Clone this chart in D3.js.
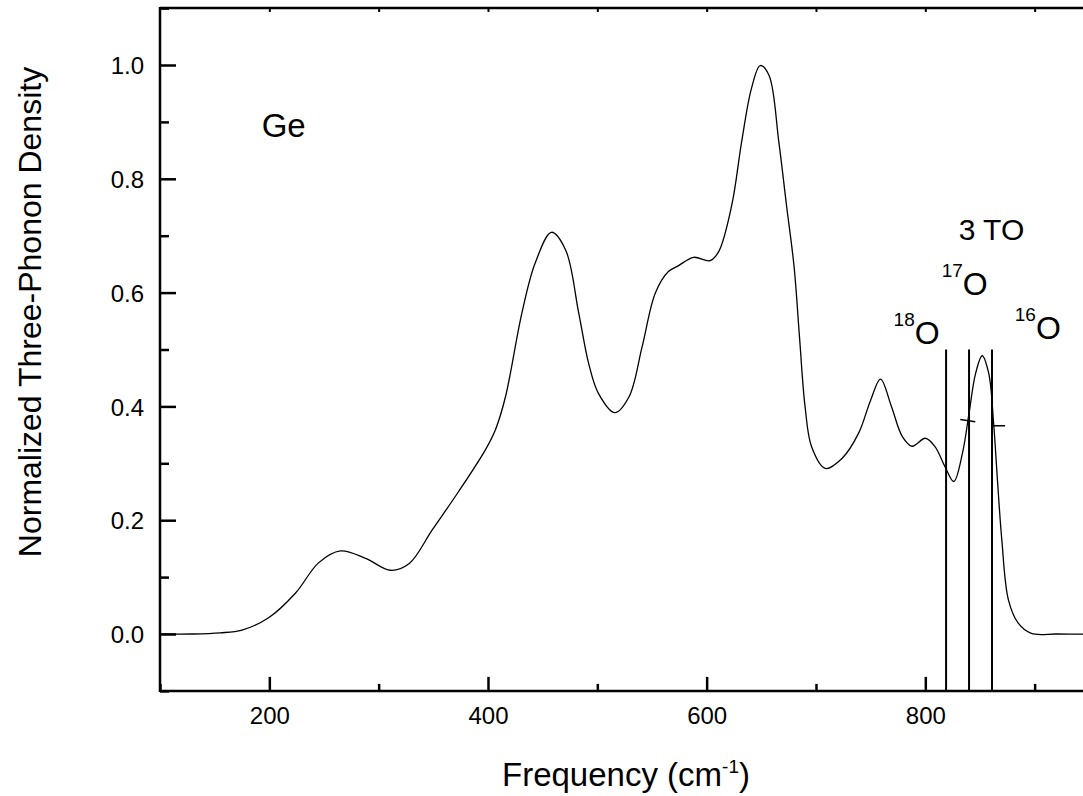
<!DOCTYPE html>
<html>
<head>
<meta charset="utf-8">
<script src="https://cdn.jsdelivr.net/npm/d3@7"></script>
<style>
  body { margin: 0; background: #fff; }
  svg { display: block; font-family: "Liberation Sans", Arial, sans-serif; }
</style>
</head>
<body>
<svg id="chart" width="1083" height="796"></svg>
<script>
// spectrum (frequency in cm-1, normalized density)
const freq = [100, 130, 155, 175, 199, 224, 245, 265, 288, 311, 328, 349, 373, 398, 407, 416, 431, 443, 458, 471, 483, 492, 501, 516, 529, 541, 553, 565, 574, 588, 603, 611, 623, 632, 641, 649, 657, 666, 673, 680, 685, 690, 696, 708.5, 724, 739, 750, 759, 769, 779, 788, 800, 809, 818, 826, 834, 840, 846, 852, 858, 862.5, 866, 870, 876, 885, 897, 920, 950]
const density = [0, 0, 0.002, 0.007, 0.028, 0.072, 0.125, 0.146, 0.133, 0.112, 0.124, 0.183, 0.25, 0.325, 0.36, 0.417, 0.564, 0.651, 0.706, 0.675, 0.564, 0.476, 0.423, 0.389, 0.417, 0.505, 0.599, 0.637, 0.647, 0.662, 0.656, 0.672, 0.754, 0.865, 0.959, 0.999, 0.982, 0.865, 0.754, 0.645, 0.52, 0.4, 0.329, 0.291, 0.309, 0.353, 0.411, 0.448, 0.4, 0.347, 0.33, 0.344, 0.329, 0.294, 0.268, 0.318, 0.388, 0.458, 0.489, 0.458, 0.37, 0.27, 0.165, 0.06, 0.019, 0.001, 0, 0]

// 3 TO positions for the three oxygen isotopes
const isotopeFreq = [819, 840, 861]
const isotopeMass = ['18', '17', '16']
const isotopeTop = 0.5
// little crossing dashes on the lines: [f1, v1, f2, v2]
const dashes = [[832, 0.377, 845.7, 0.373], [861, 0.366, 873, 0.366]]

const xMajor = [200, 400, 600, 800]
const yMajor = [0, 0.2, 0.4, 0.6, 0.8, 1.0]

const svg = d3.select('#chart')
const margin = { left: 160, top: 8 }
const x = d3.scaleLinear().domain([100, 950]).range([160, 160 + 850 * 1.0933])
const y = d3.scaleLinear().domain([-0.1, 1.1]).range([690.9, 8.1])

const points = freq.map((f, i) => ({ f: f, v: density[i] }))

const line = d3.line().x(d => x(d.f)).y(d => y(d.v)).curve(d3.curveCatmullRom.alpha(0.5))

svg.append('path')
  .datum(points)
  .attr('fill', 'none')
  .attr('stroke', '#000')
  .attr('stroke-width', 1.3)
  .attr('d', line)

// isotope lines
svg.append('g').selectAll('line').data(isotopeFreq).join('line')
  .attr('x1', d => x(d)).attr('x2', d => x(d))
  .attr('y1', y(isotopeTop)).attr('y2', y(-0.1))
  .attr('stroke', '#000').attr('stroke-width', 2)

svg.append('g').selectAll('line').data(dashes).join('line')
  .attr('x1', d => x(d[0])).attr('y1', d => y(d[1]))
  .attr('x2', d => x(d[2])).attr('y2', d => y(d[3]))
  .attr('stroke', '#000').attr('stroke-width', 1.5)

// axes, ticks pointing inward
const bottomAxis = svg.append('g').attr('transform', 'translate(0,' + y(-0.1) + ')')
bottomAxis.call(d3.axisTop(x).tickValues(d3.range(100, 951, 100)).tickSize(7).tickFormat(''))
bottomAxis.selectAll('.tick').filter(d => xMajor.includes(d)).select('line').attr('y2', -14)
bottomAxis.selectAll('.domain').remove()
bottomAxis.selectAll('.tick line').attr('stroke-width', 2.5)
bottomAxis.selectAll('.tick').filter(d => xMajor.includes(d)).append('text')
  .attr('y', 33).attr('fill', '#000').attr('text-anchor', 'middle')
  .style('font-size', '24px').text(d => d)

const leftAxis = svg.append('g').attr('transform', 'translate(' + margin.left + ',0)')
leftAxis.call(d3.axisRight(y).tickValues(d3.range(-0.1, 1.101, 0.1)).tickSize(9).tickFormat(''))
leftAxis.selectAll('.domain').remove()
leftAxis.selectAll('.tick line').attr('stroke-width', 2.5)
leftAxis.selectAll('.tick').filter(d => yMajor.some(m => Math.abs(m - d) < 1e-6)).each(function (d) {
  d3.select(this).select('line').attr('x2', 16)
  d3.select(this).append('text').attr('x', -16).attr('dy', '0.36em')
    .attr('fill', '#000').attr('text-anchor', 'end')
    .style('font-size', '24px').text(d3.format('.1f')(d))
})

const topAxis = svg.append('g').attr('transform', 'translate(0,' + margin.top + ')')
topAxis.call(d3.axisBottom(x).tickValues(d3.range(200, 951, 100)).tickSize(4).tickFormat(''))
topAxis.selectAll('.domain').remove()
topAxis.selectAll('.tick line').attr('stroke-width', 2)

// frame lines
svg.append('line').attr('x1', 160).attr('x2', 1083).attr('y1', y(-0.1)).attr('y2', y(-0.1)).attr('stroke', '#000').attr('stroke-width', 2.5)
svg.append('line').attr('x1', 160).attr('x2', 1083).attr('y1', y(1.1)).attr('y2', y(1.1)).attr('stroke', '#000').attr('stroke-width', 2.5)
svg.append('line').attr('x1', 160).attr('x2', 160).attr('y1', y(1.1) - 1).attr('y2', y(-0.1) + 1).attr('stroke', '#000').attr('stroke-width', 2.5)

// titles
svg.append('text').attr('transform', 'translate(41,312) rotate(-90)')
  .attr('text-anchor', 'middle').style('font-size', '32px')
  .text('Normalized Three-Phonon Density')

const xt = svg.append('text').attr('x', 626).attr('y', 786)
  .attr('text-anchor', 'middle').style('font-size', '33px')
xt.append('tspan').text('Frequency (cm')
xt.append('tspan').attr('dy', -13).style('font-size', '19px').text('-1')
xt.append('tspan').attr('dy', 13).text(')')

// annotations
svg.append('text').attr('x', x(193)).attr('y', y(0.873)).style('font-size', '33px').text('Ge')
svg.append('text').attr('x', x(830.5)).attr('y', y(0.692)).style('font-size', '30px').text('3 TO')

const isoLabels = [[771, 0.51], [815, 0.596], [881.8, 0.518]]
isoLabels.forEach((p, i) => {
  const t = svg.append('text').attr('x', x(p[0])).attr('y', y(p[1])).style('font-size', '32px')
  t.append('tspan').attr('dy', -18).style('font-size', '19px').text(isotopeMass[i])
  t.append('tspan').attr('dy', 18).text('O')
})
</script>
</body>
</html>
